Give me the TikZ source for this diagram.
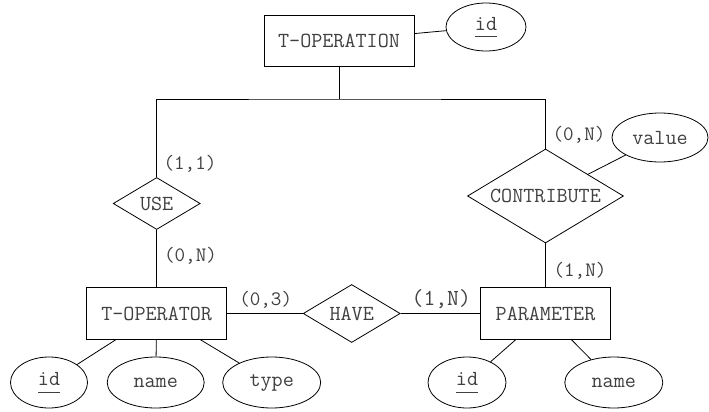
\documentclass[tikz,border=0pt]{standalone}
\usepackage{fontspec}
\usetikzlibrary{shapes.geometric}
\newcommand{\keyattr}[1]{\underline{\vphantom{p}#1}}
\tikzset{
  base/.style={draw, line width=0.8pt, inner sep=0pt, font=\ttfamily\fontsize{21.5}{24}\selectfont, text=black!75},
  entity/.style={base, rectangle},
  rel/.style={base, diamond, aspect=2},
  attr/.style={base, ellipse},
  card/.style={font=\ttfamily\fontsize{20.5}{22}\selectfont, text=black!75, inner sep=0pt},
  bigcard/.style={font=\ttfamily\fontsize{23}{25}\selectfont, text=black!75, inner sep=0pt},
  conn/.style={line width=0.8pt}
}
\begin{document}
\begin{tikzpicture}[x=1pt,y=-1pt]
\useasboundingbox (0,0) rectangle (709,412);
% entities
\node[entity, minimum width=150, minimum height=51] (top) at (339,40.5) {T-OPERATION};
\node[entity, minimum width=140, minimum height=51.6] (toper) at (156.7,313.5) {T-OPERATOR};
\node[entity, minimum width=130.7, minimum height=51.6] (param) at (545.5,313.5) {PARAMETER};
% relationships
\node[rel, minimum width=87, minimum height=52] (use) at (156.7,203.5) {USE};
\node[rel, minimum width=156, minimum height=94] (contrib) at (545.5,196) {CONTRIBUTE};
\node[rel, minimum width=97, minimum height=58] (have) at (351.7,313.5) {HAVE};
% attributes
\node[attr, minimum width=80, minimum height=48] (topid) at (486,27) {\keyattr{id}};
\node[attr, minimum width=96, minimum height=49] (value) at (660,137.5) {value};
\node[attr, minimum width=77, minimum height=51] (id1) at (49,382.5) {\keyattr{id}};
\node[attr, minimum width=97, minimum height=51] (name1) at (155.7,382.5) {name};
\node[attr, minimum width=98, minimum height=51] (type1) at (271.7,382.5) {type};
\node[attr, minimum width=78, minimum height=51] (id2) at (467,382.5) {\keyattr{id}};
\node[attr, minimum width=98, minimum height=51] (name2) at (613.8,382.5) {name};
% junction
\coordinate (j) at (339,99);
% connectors
\draw[conn] (top) -- (topid);
\draw[conn] (top) -- (j);
\draw[conn] (use.north) |- (j) -| (contrib.north);
\draw[conn] (use) -- (toper);
\draw[conn] (contrib) -- (param);
\draw[conn] (value) -- (contrib);
\draw[conn] (toper) -- (have);
\draw[conn] (have) -- (param);
\draw[conn] (toper) -- (id1);
\draw[conn] (toper) -- (name1);
\draw[conn] (toper) -- (type1);
\draw[conn] (param) -- (id2);
\draw[conn] (param) -- (name2);
% cardinalities
\node[card] (c1) at (190,164) {(1,1)};
\node[card] (c2) at (190.5,256) {(0,N)};
\node[card] (c3) at (579,135) {(0,N)};
\node[card] (c4) at (580,271) {(1,N)};
\node[card] (c5) at (265.7,300) {(0,3)};
\node[bigcard] (c6) at (441.3,299.3) {(1,N)};
\end{tikzpicture}
\end{document}
